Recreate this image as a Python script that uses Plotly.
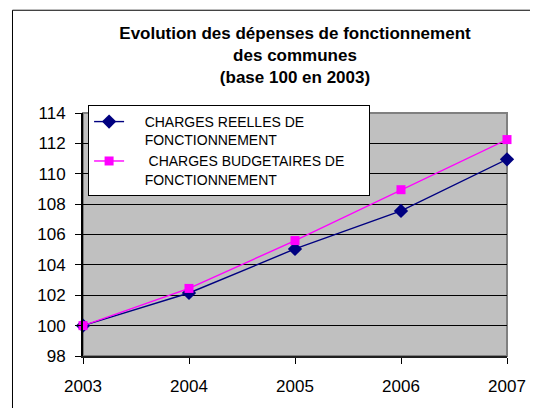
import plotly.graph_objects as go

years = [2003, 2004, 2005, 2006, 2007]
charges_reelles = [100, 102.15, 105.05, 107.55, 110.95]
charges_budgetaires = [100, 102.45, 105.6, 108.95, 112.25]
pad = "\u00a0" * 4
name_reelles = pad + "CHARGES REELLES DE<br>" + pad + "FONCTIONNEMENT"
name_budget = pad + " CHARGES BUDGETAIRES DE" + "\u00a0" * 5 + "<br>" + pad + "FONCTIONNEMENT"
y_ticks = [98, 100, 102, 104, 106, 108, 110, 112, 114]

fig = go.Figure()
fig.add_trace(go.Scatter(
    x=years, y=charges_reelles, name=name_reelles, mode="lines+markers",
    line=dict(color="#000080", width=1.4),
    marker=dict(symbol="diamond", size=11, color="#000080"),
    cliponaxis=False,
))
fig.add_trace(go.Scatter(
    x=years, y=charges_budgetaires, name=name_budget, mode="lines+markers",
    line=dict(color="#FF00FF", width=1.4),
    marker=dict(symbol="square", size=9, color="#FF00FF"),
    cliponaxis=False,
))

font = "Liberation Sans, Arial, sans-serif"
# page body has an 8px margin, so the figure is 8px smaller and shifted
fig.update_layout(
    width=530, height=400,
    margin=dict(l=75, r=23, t=105, b=47),
    paper_bgcolor="white",
    plot_bgcolor="#C0C0C0",
    font=dict(family=font, color="black"),
    title=dict(
        text="<b>Evolution des dépenses de fonctionnement<br>des communes<br>(base 100 en 2003)</b>",
        x=0.5, xanchor="center", y=0.9225, yanchor="top",
        xref="paper",
        font=dict(size=17, family=font),
    ),
    showlegend=True,
    legend=dict(
        x=0.012, y=1.033, xanchor="left", yanchor="top",
        bgcolor="white", bordercolor="black", borderwidth=1,
        font=dict(size=14, family=font),
        valign="top", tracegroupgap=4,
    ),
    shapes=[
        dict(type="rect", xref="paper", yref="paper", x0=-0.1663, y0=-0.6,
             x1=1.3, y1=1.4229, line=dict(color="black", width=1), layer="above"),
        dict(type="rect", xref="paper", yref="paper", x0=0, y0=0, x1=1, y1=1,
             line=dict(color="#808080", width=2), layer="between"),
    ],
)
fig.update_xaxes(
    range=[2003, 2007], tickvals=years, ticktext=[str(y) for y in years],
    showgrid=False, zeroline=False,
    showline=True, linecolor="#202020", linewidth=2,
    ticks="outside", ticklen=6, tickcolor="black",
    tickfont=dict(size=17), ticklabelstandoff=8,
)
fig.update_yaxes(
    range=[98, 114], tickvals=y_ticks,
    showgrid=True, gridcolor="black", gridwidth=1,
    zeroline=False,
    showline=True, linecolor="black", linewidth=2,
    ticks="outside", ticklen=6, tickcolor="black",
    tickfont=dict(size=17), ticklabelstandoff=6,
)

fig.write_html("out.html")
